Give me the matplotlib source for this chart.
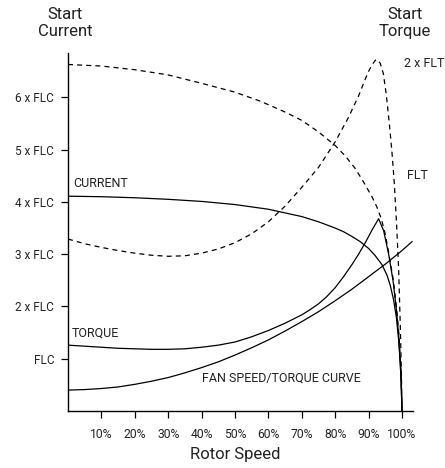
import matplotlib
matplotlib.use("Agg")
import matplotlib.pyplot as plt

# valeurs (x = % vitesse rotor, y = multiples de FLC)
cur_x = [0, 10, 20, 30, 40, 50, 60, 70, 75, 80, 82.5, 85, 87.5, 90, 92, 94, 95.5, 96.5, 97.5, 98.3, 99, 99.5, 99.8, 100]
cur_y = [4.11, 4.10, 4.08, 4.05, 4.01, 3.95, 3.86, 3.72, 3.62, 3.50, 3.43, 3.34, 3.24, 3.11, 2.97, 2.80, 2.60, 2.40, 2.12, 1.80, 1.35, 0.90, 0.50, 0.0]

trq_x = [0, 5, 10, 15, 20, 25, 30, 35, 40, 45, 50, 55, 60, 62.5, 65, 67.5, 70, 72.5, 75, 77.5, 80, 82.5, 85, 87, 89, 91, 93,
         94.5, 96, 97.3, 98.3, 99, 99.6, 100]
trq_y = [1.26, 1.24, 1.22, 1.20, 1.19, 1.18, 1.18, 1.19, 1.22, 1.26, 1.32, 1.42, 1.54, 1.61, 1.68, 1.76, 1.84, 1.94, 2.05, 2.19, 2.36, 2.57, 2.80, 3.00, 3.22, 3.46, 3.68,
         3.45, 3.00, 2.50, 1.95, 1.45, 0.75, 0.0]

fan_x = [0, 5, 10, 15, 20, 25, 30, 35, 40, 45, 50, 55, 60, 65, 70, 75, 80, 85, 90, 95, 100, 103]
fan_y = [0.40, 0.41, 0.43, 0.46, 0.51, 0.57, 0.64, 0.73, 0.83, 0.94, 1.07, 1.21, 1.36, 1.53, 1.71, 1.90, 2.11, 2.33, 2.57, 2.81, 3.07, 3.24]

dcur_x = [0, 10, 20, 30, 40, 50, 57.5, 65, 70, 75, 80, 83, 86, 88.5, 91, 92.5, 93.8, 95, 96.1, 97.4, 98.4, 99.1, 99.7, 100]
dcur_y = [6.63, 6.60, 6.53, 6.43, 6.27, 6.10, 5.93, 5.72, 5.56, 5.34, 5.08, 4.88, 4.64, 4.38, 4.10, 3.90, 3.68, 3.38, 3.00, 2.50, 1.95, 1.45, 0.75, 0.0]

dtrq_x = [0, 5, 10, 15, 20, 25, 30, 35, 40, 45, 50, 55, 60, 65, 70, 75, 80, 84, 87, 89, 90, 91, 92, 92.7, 93.5,
          94.4, 95.3, 96.2, 97, 97.7, 98.4, 99, 99.5, 99.8, 100]
dtrq_y = [3.29, 3.20, 3.13, 3.07, 3.02, 2.98, 2.96, 2.97, 3.02, 3.10, 3.22, 3.39, 3.62, 3.92, 4.28, 4.66, 5.15, 5.62, 6.03, 6.35, 6.50, 6.62, 6.71, 6.72, 6.65,
          6.46, 6.05, 5.50, 4.95, 4.35, 3.55, 2.70, 1.60, 0.80, 0.0]

x_ticks = [10, 20, 30, 40, 50, 60, 70, 80, 90, 100]
x_labels = [f"{t}%" for t in x_ticks]
y_ticks = [1, 2, 3, 4, 5, 6]
y_labels = ["FLC", "2 x FLC", "3 x FLC", "4 x FLC", "5 x FLC", "6 x FLC"]

plt.rcParams["font.family"] = ["Roboto", "DejaVu Sans"]
TXT = "#222222"

fig = plt.figure(figsize=(4.45, 4.68), dpi=100)
ax = fig.add_axes([0.1528, 0.1218, 0.7746, 0.765])

solid = dict(color="black", lw=0.9, solid_joinstyle="round")
dash = dict(color="black", lw=0.9, ls=(0, (4, 3.3)))
ax.plot(cur_x, cur_y, **solid)
ax.plot(trq_x, trq_y, **solid)
ax.plot(fan_x, fan_y, **solid)
ax.plot(dcur_x, dcur_y, **dash)
ax.plot(dtrq_x, dtrq_y, **dash)

ax.set_xlim(0, 103.2)
ax.set_ylim(0, 6.85)
for s in ("top", "right"):
    ax.spines[s].set_visible(False)
for s in ("left", "bottom"):
    ax.spines[s].set_linewidth(1.0)

ax.set_xticks(x_ticks, x_labels)
ax.set_yticks(y_ticks, y_labels)
ax.tick_params(axis="x", direction="out", length=5, width=0.9, pad=7, labelsize=8.7, labelcolor=TXT)
ax.tick_params(axis="y", direction="out", length=5, width=0.9, pad=5, labelsize=8.5, labelcolor=TXT)

lab = dict(fontsize=9, color=TXT)
ax.text(1.5, 4.22, "CURRENT", ha="left", va="bottom", **lab)
ax.text(1.2, 1.36, "TORQUE", ha="left", va="bottom", **lab)
ax.text(40.0, 0.63, "FAN SPEED/TORQUE CURVE", ha="left", va="center", **lab)
ax.text(101.5, 4.5, "FLT", ha="left", va="center", **lab)
ax.text(100.5, 6.65, "2 x FLT", ha="left", va="center", **lab)

fig.text(65 / 445, 1 - 23 / 468, "Start\nCurrent", ha="center", va="center",
         fontsize=12, color=TXT, linespacing=1.15)
fig.text(405 / 445, 1 - 23 / 468, "Start\nTorque", ha="center", va="center",
         fontsize=12, color=TXT, linespacing=1.15)
fig.text(235 / 445, 1 - 455 / 468, "Rotor Speed", ha="center", va="center",
         fontsize=12, color=TXT)

fig.savefig("out.png", dpi=100)
